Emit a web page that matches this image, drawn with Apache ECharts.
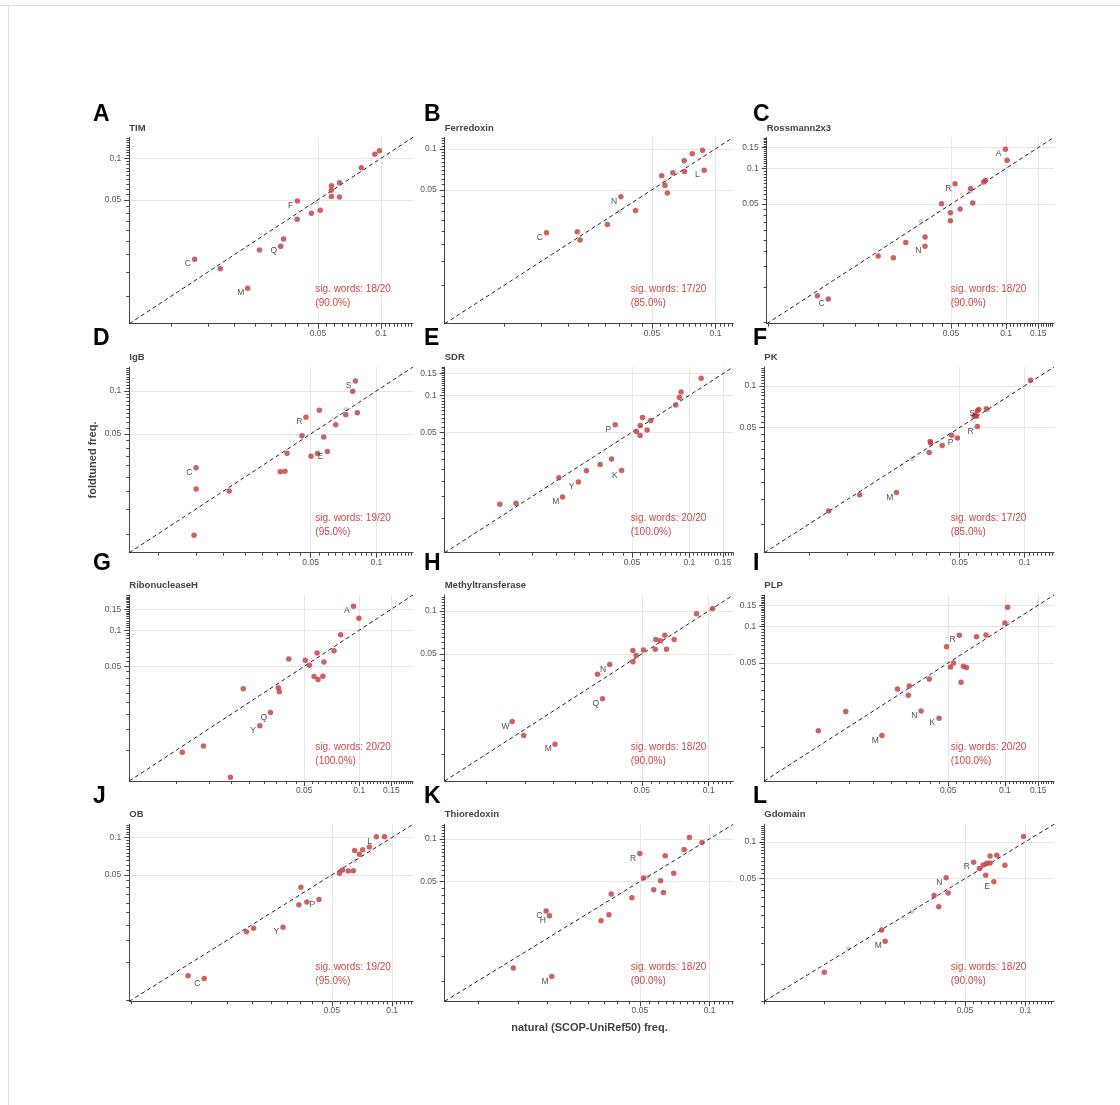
<!DOCTYPE html>
<html><head><meta charset="utf-8">
<script src="https://cdn.jsdelivr.net/npm/echarts@6/dist/echarts.min.js"></script>
<style>html,body{margin:0;padding:0;background:#fff}#c{width:1120px;height:1105px}</style>
</head><body><div id="c"></div>
<script>
// ---------------- data ----------------
const panelNames   = ['TIM','Ferredoxin','Rossmann2x3','IgB','SDR','PK','RibonucleaseH','Methyltransferase','PLP','OB','Thioredoxin','Gdomain'];
const panelLetters = ['A','B','C','D','E','F','G','H','I','J','K','L'];
const sigWords     = [18,17,18,19,20,17,20,18,20,19,18,18];
const totalWords   = 20;
const axisRanges   = [[0.0063,0.142],[0.0052,0.1215],[0.0049,0.183],[0.0074,0.147],[0.0052,0.17],[0.0062,0.137],
                      [0.0055,0.197],[0.0065,0.129],[0.0053,0.182],[0.0049,0.127],[0.0072,0.1265],[0.005,0.139]];
const tickLabelValues = [0.05,0.1,0.15];

const TIM_nat = [0.0129,0.0171,0.0231,0.0263,0.0332,0.0343,0.0398,0.0399,0.0465,0.0513,0.0580,0.0579,0.0580,0.0634,0.0633,0.0805,0.0934,0.0982];
const TIM_ft  = [0.0185,0.0158,0.0114,0.0216,0.0230,0.0259,0.0361,0.0489,0.0399,0.0420,0.0633,0.0585,0.0529,0.0663,0.0523,0.0854,0.1070,0.1132];
const TIM_lab = ['C','','M','','Q','','','F','','','','','','','','','',''];
const TIM_grey = [[0.049,0.048]];

const FER_nat = [0.0158,0.0221,0.0228,0.0307,0.0356,0.0418,0.0556,0.0576,0.0591,0.0628,0.0711,0.0713,0.0776,0.0868,0.0884];
const FER_ft  = [0.0242,0.0246,0.0214,0.0278,0.0444,0.0353,0.0633,0.0538,0.0473,0.0666,0.0816,0.0682,0.0919,0.0978,0.0697];
const FER_lab = ['C','','','','N','','','','','','','','','','L'];
const FER_grey = [[0.035,0.0347],[0.0575,0.0572]];

const ROS_nat = [0.00928,0.01064,0.01995,0.02416,0.02828,0.03604,0.0360,0.04439,0.0496,0.0496,0.0526,0.0561,0.0640,0.0657,0.0755,0.0772,0.0992,0.1013];
const ROS_ft  = [0.00845,0.00793,0.01826,0.01768,0.02375,0.02633,0.0220,0.0503,0.0423,0.03627,0.0744,0.0454,0.0676,0.0510,0.0769,0.0789,0.1450,0.1174];
const ROS_lab = ['','C','','','','','N','','','','R','','','','','','A',''];
const ROS_grey = [[0.0342,0.0358],[0.0634,0.0638]];

const IGB_nat = [0.01496,0.01496,0.01464,0.0212,0.0363,0.03815,0.0390,0.04563,0.0476,0.0502,0.0537,0.0548,0.0574,0.0596,0.0651,0.0724,0.0779,0.0801,0.0818];
const IGB_ft  = [0.0290,0.02064,0.00978,0.0200,0.02723,0.0274,0.0367,0.0487,0.0656,0.0350,0.0365,0.0734,0.0477,0.0377,0.0580,0.0681,0.0995,0.1174,0.0703];
const IGB_lab = ['C','','','','','','','','R','','','','','E','','','','S',''];
const IGB_grey = [[0.0725,0.0742]];

const SDR_nat = [0.01012,0.0123,0.02066,0.0216,0.02615,0.02881,0.0340,0.03905,0.0441,0.0408,0.0527,0.0551,0.0552,0.0567,0.0600,0.0627,0.0847,0.0886,0.0904,0.1153];
const SDR_ft  = [0.0129,0.01314,0.02125,0.0148,0.0196,0.02423,0.02729,0.03015,0.02438,0.0574,0.0506,0.0469,0.0567,0.0658,0.0522,0.0622,0.0834,0.0957,0.1064,0.1375];
const SDR_lab = ['','','','M','Y','','','','K','P','','','','','','','','','',''];
const SDR_grey = [];

const PK_nat = [0.01232,0.01718,0.02544,0.03612,0.0365,0.0367,0.0415,0.0459,0.0488,0.0583,0.0598,0.0604,0.0613,0.0604,0.0665,0.1066,0.0590];
const PK_ft  = [0.01243,0.01626,0.0169,0.03288,0.03954,0.03867,0.0370,0.0440,0.0420,0.0605,0.0603,0.0661,0.0676,0.0508,0.0684,0.1100,0.0615];
const PK_lab = ['','','M','','','','','','P','','','','S','R','','',''];
const PK_grey = [[0.0301,0.0297],[0.0675,0.0669]];

const RNH_nat = [0.01073,0.01402,0.0197,0.02316,0.02852,0.03263,0.03604,0.03649,0.04112,0.05064,0.05329,0.05656,0.0588,0.0595,0.0632,0.0640,0.0727,0.0791,0.0930,0.0996];
const RNH_ft  = [0.00957,0.0108,0.0059,0.03245,0.01591,0.02053,0.03307,0.03064,0.0575,0.0561,0.0510,0.0411,0.0645,0.0388,0.0413,0.0543,0.0674,0.0915,0.1590,0.1257];
const RNH_lab = ['','','','','Y','Q','','','','','','','','','','','','','A',''];
const RNH_grey = [];

const MET_nat = [0.01307,0.01473,0.02037,0.03163,0.0333,0.0359,0.0456,0.0456,0.0472,0.0509,0.0575,0.0579,0.0607,0.0635,0.0646,0.0699,0.0882,0.1042];
const MET_ft  = [0.01693,0.01349,0.01171,0.03613,0.02433,0.04227,0.04415,0.0528,0.0489,0.0534,0.0539,0.0631,0.0618,0.0677,0.0539,0.0631,0.0953,0.1038];
const MET_lab = ['W','','M','','Q','N','','','','','','','','','','','',''];
const MET_grey = [];

const PLP_nat = [0.01025,0.01432,0.02228,0.02692,0.03073,0.03111,0.03594,0.0397,0.04473,0.0490,0.0515,0.0534,0.0573,0.0585,0.0602,0.0625,0.0707,0.0794,0.1000,0.1033];
const PLP_ft  = [0.0138,0.01984,0.01258,0.03053,0.02711,0.0323,0.0201,0.0368,0.01751,0.0679,0.0464,0.0500,0.0845,0.0346,0.0470,0.0458,0.0824,0.0850,0.1071,0.1445];
const PLP_lab = ['','','M','','','','N','','K','','','','R','','','','','','',''];
const PLP_grey = [];

const OB_nat = [0.00962,0.01157,0.01879,0.02039,0.0286,0.03428,0.03508,0.03759,0.04319,0.05464,0.05655,0.0604,0.0640,0.0650,0.0686,0.0713,0.0770,0.0834,0.0915];
const OB_ft  = [0.00783,0.00746,0.01757,0.01878,0.01913,0.02892,0.03994,0.03038,0.03189,0.0516,0.0548,0.0538,0.0540,0.0784,0.0733,0.0794,0.0838,0.1012,0.1012];
const OB_lab = ['','C','','','Y','','','','P','','','','','','','','','L',''];
const OB_grey = [[0.0653,0.065]];

const TRX_nat = [0.01422,0.02085,0.01972,0.02038,0.0340,0.03678,0.03764,0.0462,0.0500,0.05185,0.0574,0.0614,0.0632,0.0643,0.0700,0.0776,0.0818,0.0927];
const TRX_ft  = [0.01237,0.01074,0.03105,0.02877,0.02653,0.02925,0.0409,0.03855,0.0788,0.0531,0.0439,0.0508,0.0420,0.0759,0.0573,0.0841,0.1022,0.0942];
const TRX_lab = ['','M','C','H','','','','','R','','','','','','','','',''];
const TRX_grey = [[0.0539,0.0537]];

const GD_nat = [0.00996,0.01924,0.0200,0.03508,0.03703,0.0403,0.04124,0.05527,0.0590,0.0616,0.0642,0.0667,0.0635,0.0667,0.0697,0.0721,0.0791,0.0980];
const GD_ft  = [0.00863,0.01905,0.01543,0.03648,0.02955,0.0509,0.03832,0.0681,0.0606,0.0648,0.0669,0.0673,0.0535,0.0766,0.0473,0.0776,0.0645,0.1104];
const GD_lab = ['','','M','','','N','','R','','','','','','','E','','',''];
const GD_grey = [[0.0272,0.0269],[0.0131,0.0135]];

const natAll  = [TIM_nat,FER_nat,ROS_nat,IGB_nat,SDR_nat,PK_nat,RNH_nat,MET_nat,PLP_nat,OB_nat,TRX_nat,GD_nat];
const ftAll   = [TIM_ft,FER_ft,ROS_ft,IGB_ft,SDR_ft,PK_ft,RNH_ft,MET_ft,PLP_ft,OB_ft,TRX_ft,GD_ft];
const labAll  = [TIM_lab,FER_lab,ROS_lab,IGB_lab,SDR_lab,PK_lab,RNH_lab,MET_lab,PLP_lab,OB_lab,TRX_lab,GD_lab];
const greyAll = [TIM_grey,FER_grey,ROS_grey,IGB_grey,SDR_grey,PK_grey,RNH_grey,MET_grey,PLP_grey,OB_grey,TRX_grey,GD_grey];

// ---------------- layout ----------------
const colLeft  = [[129.3,444.7,766.7],[129.3,444.7,764.3],[129.3,444.7,764.3],[129.3,444.7,764.3]];
const colRight = [413,733.3,1054];
const rowTop   = [137.3,367,595,824.3];
const rowBot   = [323.7,552.7,781,1001.3];
const letterX  = [93,424,753];
const letterY  = [115,338.5,564,796.5];
const titleY   = [128.3,357.3,585.7,814.3];
const sigX     = [315.3,630.7,950.7];

const FONT = '"Liberation Sans", Arial, Helvetica, sans-serif';
const RED = '#c23b3b';
const TXTRED = '#cc4646';
const AXC = '#444';

function majors(lo,hi){return tickLabelValues.filter(v=>v>=lo&&v<=hi);}
function minors(lo,hi){const o=[];for(let k=1;k<=60;k++){const v=+(k*0.005).toFixed(3);if(v>=lo&&v<=hi&&k%10!==0)o.push(v);}return o;}
const fmt = v => String(+(+v).toFixed(3));

const grid=[], xAxis=[], yAxis=[], series=[], graphic=[];

for(let i=0;i<12;i++){
  const r=Math.floor(i/3), c=i%3;
  const left=colLeft[r][c], right=colRight[c], top=rowTop[r], bot=rowBot[r];
  grid.push({left:left, top:top, width:right-left, height:bot-top});
  const [lo,hi]=axisRanges[i];
  const mj=majors(lo,hi), mn=minors(lo,hi);
  const mainAx = (pos)=>({
    type:'log', gridIndex:i, min:lo, max:hi, position:pos,
    axisLine:{show:true,onZero:false,lineStyle:{color:AXC,width:1}},
    axisTick:{show:true,customValues:mj,length:5,lineStyle:{color:AXC}},
    axisLabel:{show:true,customValues:mj,formatter:fmt,fontSize:8.5,color:'#555',fontFamily:FONT,margin:pos==='left'?8:5},
    splitLine:{show:true,lineStyle:{color:'#e6e6e6',width:1}},
    minorTick:{show:false}, minorSplitLine:{show:false}
  });
  const minorAx = (pos)=>({
    type:'log', gridIndex:i, min:lo, max:hi, position:pos,
    axisLine:{show:false,onZero:false},
    axisTick:{show:true,customValues:mn,length:3,lineStyle:{color:AXC}},
    axisLabel:{show:false}, splitLine:{show:false}
  });
  xAxis.push(mainAx('bottom')); xAxis.push(minorAx('bottom'));
  yAxis.push(mainAx('left'));   yAxis.push(minorAx('left'));
  const xi=2*i, yi=2*i;
  series.push({type:'scatter', xAxisIndex:xi, yAxisIndex:yi, symbolSize:5, z:2, silent:true,
    itemStyle:{color:'#c8c8c8'}, data:greyAll[i]});
  series.push({type:'line', xAxisIndex:xi, yAxisIndex:yi, z:3, silent:true, showSymbol:false, symbol:'none',
    lineStyle:{color:'#222',width:1,type:[4,3]}, data:[[lo,lo],[hi,hi]]});
  const nat=natAll[i], ft=ftAll[i], lab=labAll[i];
  const lbl = t => ({show:true, formatter:t, position:[-4,7.5], align:'center', verticalAlign:'middle',
                     color:'#222', fontSize:8.5, fontFamily:FONT});
  series.push({type:'scatter', xAxisIndex:xi, yAxisIndex:yi, symbolSize:5.5, z:4,
    itemStyle:{color:RED},
    labelLayout:{hideOverlap:false},
    data:nat.map((x,j)=> lab[j] ? {value:[x,ft[j]], label:lbl(lab[j])} : {value:[x,ft[j]]})
  });
  graphic.push({type:'text', x:letterX[c], y:letterY[r], silent:true,
    style:{text:panelLetters[i], font:'bold 23px '+FONT, fill:'#000', align:'left', verticalAlign:'middle'}});
  graphic.push({type:'text', x:left, y:titleY[r], silent:true,
    style:{text:panelNames[i], font:'bold 9.5px '+FONT, fill:'#444', align:'left', verticalAlign:'middle'}});
  const pct=(sigWords[i]/totalWords*100).toFixed(1);
  graphic.push({type:'text', x:sigX[c], y:bot-41, silent:true, z:10,
    style:{text:'sig. words: '+sigWords[i]+'/'+totalWords+'\n('+pct+'%)', font:'10px '+FONT, lineHeight:14,
      fill:TXTRED, align:'left', verticalAlign:'top'}});
}
graphic.push({type:'text', x:93, y:460, rotation:Math.PI/2, silent:true,
  style:{text:'foldtuned freq.', font:'bold 11px '+FONT, fill:'#444', align:'center', verticalAlign:'middle'}});
graphic.push({type:'text', x:589.5, y:1028, silent:true,
  style:{text:'natural (SCOP-UniRef50) freq.', font:'bold 11px '+FONT, fill:'#444', align:'center', verticalAlign:'middle'}});
graphic.push({type:'line', silent:true, shape:{x1:0,y1:5.5,x2:1120,y2:5.5}, style:{stroke:'#dddddd',lineWidth:1}});
graphic.push({type:'line', silent:true, shape:{x1:8.5,y1:5.5,x2:8.5,y2:1105}, style:{stroke:'#dddddd',lineWidth:1}});

const chart = echarts.init(document.getElementById('c'), null, {renderer:'canvas', width:1120, height:1105});
chart.setOption({backgroundColor:'#fff', animation:false, grid, xAxis, yAxis, series, graphic});
</script></body></html>
